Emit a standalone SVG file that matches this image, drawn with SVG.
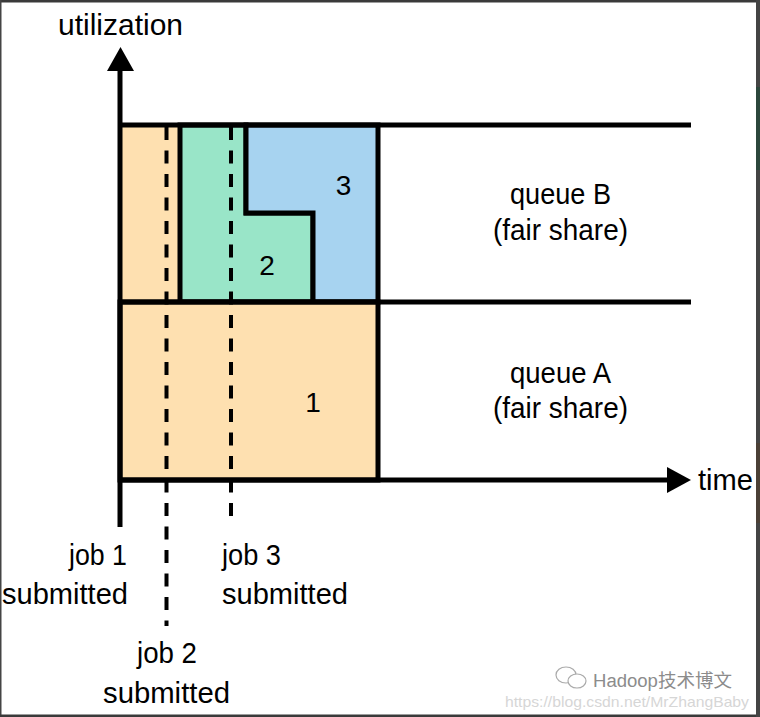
<svg xmlns="http://www.w3.org/2000/svg" width="760" height="717" viewBox="0 0 760 717">
<style>
.t{font-family:"Liberation Sans","DejaVu Sans",sans-serif;font-size:30px;fill:#000}
.n{font-family:"Liberation Sans","DejaVu Sans",sans-serif;font-size:28px;fill:#000;text-anchor:middle}
.ln{stroke:#000;stroke-width:5;fill:none}
.bx{stroke:#000;stroke-width:5;stroke-linejoin:miter}
.dash{stroke:#000;stroke-width:4;stroke-dasharray:13 10.5;fill:none}
</style>
<rect x="0" y="0" width="760" height="717" fill="#ffffff"/>
<g id="frame">
<rect x="0" y="0" width="760" height="2.5" fill="#3a3a3a"/>
<rect x="0" y="0" width="1.5" height="717" fill="#444"/>
<rect x="0" y="714.5" width="760" height="2.5" fill="#3a3a3a"/>
<rect x="756" y="0" width="4" height="717" fill="#444"/>
<rect x="756" y="87" width="4" height="83" fill="#2c473c"/>
<rect x="756" y="443" width="4" height="80" fill="#4b4036"/>
</g>
<g id="queueB-jobs">
<g id="job1-top"><rect x="120" y="125" width="60" height="177" fill="#fee0b0"/></g>
<g id="job2"><polygon class="bx" points="180,125 246,125 246,213 313,213 313,302 180,302" fill="#99e5c8"/></g>
<g id="job3"><polygon class="bx" points="246,125 378,125 378,302 313,302 313,213 246,213" fill="#a7d3f0"/></g>
</g>
<g id="queueA-job1"><rect class="bx" x="120" y="302" width="258" height="178" fill="#fee0b0"/></g>
<g id="connectors">
<line class="ln" x1="118" y1="125" x2="691" y2="125"/>
<line class="ln" x1="118" y1="302" x2="691" y2="302"/>
<line class="ln" x1="120" y1="68" x2="120" y2="527"/>
<polygon points="107,71 120.5,47 134,71" fill="#000"/>
<line class="ln" x1="118" y1="480" x2="669" y2="480"/>
<polygon points="667,467 691,480 667,493" fill="#000"/>
<line class="dash" x1="166.5" y1="127" x2="166.5" y2="626"/>
<line class="dash" x1="231" y1="127" x2="231" y2="526"/>
</g>
<g id="labels">
<text class="t" x="58" y="35" textLength="125" lengthAdjust="spacingAndGlyphs">utilization</text>
<text class="t" x="698" y="490" textLength="55" lengthAdjust="spacingAndGlyphs">time</text>
<text class="n" x="343.5" y="195">3</text>
<text class="n" x="267" y="275">2</text>
<text class="n" x="313" y="412">1</text>
<text class="t" x="510" y="204" textLength="101" lengthAdjust="spacingAndGlyphs">queue B</text>
<text class="t" x="493" y="240" textLength="135" lengthAdjust="spacingAndGlyphs">(fair share)</text>
<text class="t" x="510" y="383" textLength="101" lengthAdjust="spacingAndGlyphs">queue A</text>
<text class="t" x="493" y="418" textLength="135" lengthAdjust="spacingAndGlyphs">(fair share)</text>
<text class="t" x="69" y="565" textLength="58" lengthAdjust="spacingAndGlyphs">job 1</text>
<text class="t" x="2" y="604" textLength="126" lengthAdjust="spacingAndGlyphs">submitted</text>
<text class="t" x="222" y="565" textLength="59" lengthAdjust="spacingAndGlyphs">job 3</text>
<text class="t" x="222" y="604" textLength="126" lengthAdjust="spacingAndGlyphs">submitted</text>
<text class="t" x="137" y="663" textLength="60" lengthAdjust="spacingAndGlyphs">job 2</text>
<text class="t" x="103" y="703" textLength="127" lengthAdjust="spacingAndGlyphs">submitted</text>
</g>
<g id="watermark">
<ellipse cx="566" cy="675" rx="10" ry="8" fill="#fff" stroke="#aaa" stroke-width="1.2"/>
<ellipse cx="577" cy="681" rx="9" ry="7" fill="#fff" stroke="#aaa" stroke-width="1.2"/>
<text x="593" y="687" font-family="'Liberation Sans','Noto Sans CJK SC',sans-serif" font-size="18" fill="#8c8c8c" textLength="139" lengthAdjust="spacingAndGlyphs">Hadoop技术博文</text>
<text x="505" y="707" font-family="'Liberation Sans',sans-serif" font-size="15" fill="#d6d6d6" textLength="244" lengthAdjust="spacingAndGlyphs">https://blog.csdn.net/MrZhangBaby</text>
</g>
</svg>
